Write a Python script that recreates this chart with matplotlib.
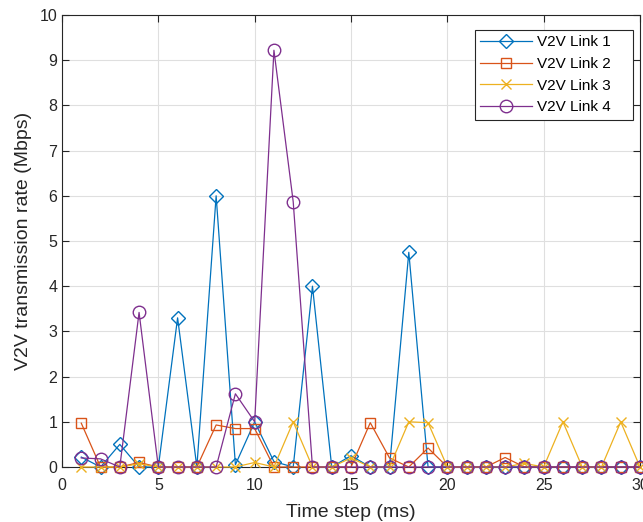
import matplotlib
matplotlib.use('Agg')
import matplotlib.pyplot as plt

# data
time_step = list(range(1, 31))
link1 = [0.22, 0, 0.5, 0, 0, 3.3, 0, 6.0, 0.05, 1.0,
         0.12, 0, 4.0, 0, 0.25, 0, 0, 4.75, 0, 0,
         0, 0, 0, 0, 0, 0, 0, 0, 0, 0]
link2 = [0.97, 0, 0, 0.1, 0, 0, 0, 0.93, 0.85, 0.85,
         0, 0, 0, 0, 0, 0.98, 0.2, 0, 0.42, 0,
         0, 0, 0.21, 0, 0, 0, 0, 0, 0, 0]
link3 = [0, 0, 0, 0.07, 0, 0, 0, 0, 0, 0.1,
         0, 1.0, 0, 0, 0.2, 0, 0, 1.0, 0.98, 0,
         0, 0, 0, 0.08, 0, 1.0, 0, 0, 1.0, 0]
link4 = [0.2, 0.18, 0, 3.42, 0, 0, 0, 0, 1.62, 1.0,
         9.22, 5.87, 0, 0, 0, 0, 0, 0, 0, 0,
         0, 0, 0, 0, 0, 0, 0, 0, 0, 0]

series = [
    (link1, 'V2V Link 1', '#0072BD', 'D', 7.5),
    (link2, 'V2V Link 2', '#D95319', 's', 7),
    (link3, 'V2V Link 3', '#EDB120', 'x', 7),
    (link4, 'V2V Link 4', '#7E2F8E', 'o', 9),
]

plt.rcParams['font.family'] = ['Liberation Sans', 'DejaVu Sans']
plt.rcParams['font.size'] = 11

fig = plt.figure(figsize=(6.43, 5.22), dpi=100)
ax = fig.add_axes([62 / 643, 1 - 467 / 522, 578 / 643, 452 / 522])

for vals, name, col, mk, ms in series:
    # trailing spaces give the wide right margin of the legend box
    ax.plot(time_step, vals, color=col, marker=mk, markersize=ms,
            markerfacecolor='none', markeredgewidth=1.0, linewidth=0.9,
            label=name + '    ', clip_on=False, zorder=3)

ax.set_xlim(0, 30)
ax.set_ylim(0, 10)
ax.set_xticks(range(0, 31, 5))
ax.set_yticks(range(0, 11))
ax.set_xlabel('Time step (ms)', color='#262626', fontsize=14, labelpad=8)
ax.set_ylabel('V2V transmission rate (Mbps)', color='#262626', fontsize=14, labelpad=5)
ax.grid(True, color='#dfdfdf', linewidth=0.8)
ax.set_axisbelow(True)
ax.tick_params(direction='in', top=True, right=True, colors='#262626',
               labelsize=11.5, length=5)
ax.tick_params(axis='x', pad=8)
for sp in ax.spines.values():
    sp.set_color('#262626')
    sp.set_linewidth(0.8)

leg = ax.legend(loc='upper right', bbox_to_anchor=(0.988, 0.967), fancybox=False,
                edgecolor='#262626', framealpha=1, fontsize=11,
                handlelength=3.4, handletextpad=0.3, borderpad=0.35,
                labelspacing=0.5, borderaxespad=0)
leg.get_frame().set_linewidth(0.8)

fig.savefig('out.png', dpi=100)
